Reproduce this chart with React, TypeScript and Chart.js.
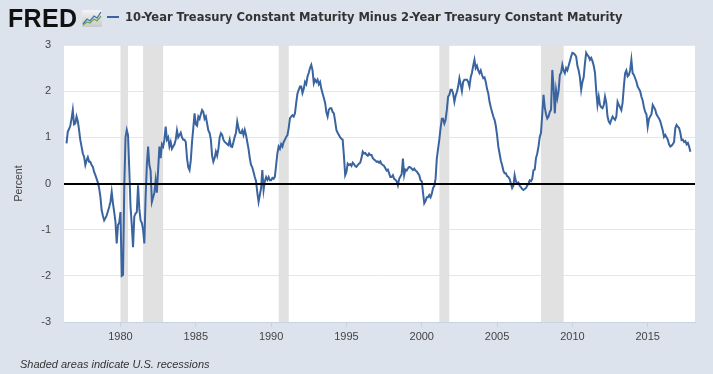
import React, { useEffect, useRef } from "react";
import { Chart, registerables } from "chart.js";
Chart.register(...registerables);

const startYear = 1976;
const startMonth = 6;

const spread1970s = [
  0.87, 1.12, 1.18, 1.25, 1.4, 1.59, 1.28,
  1.3, 1.45, 1.35, 1.16, 0.94, 0.8, 0.65, 0.58, 0.4, 0.5, 0.57, 0.47,
  0.47, 0.4, 0.36, 0.25, 0.18, 0.1, 0.02, -0.1, -0.29, -0.58, -0.7, -0.8,
  -0.75, -0.69, -0.6, -0.51, -0.4, -0.18, -0.43, -0.62, -0.83, -1.3, -0.9, -0.85,
];
const spread1980s = [
  -0.62, -2.0, -1.98, -0.1, 1.0, 1.16, 1.05, 0.3, -0.5, -0.9, -1.38, -0.72,
  -0.65, -0.62, -0.04, -0.55, -0.8, -0.85, -1.0, -1.3, -0.3, 0.4, 0.8, 0.4,
  0.28, -0.4, -0.3, -0.2, 0.07, -0.2, 0.3, 0.8, 0.55, 0.85, 0.8, 0.95,
  1.23, 0.95, 1.0, 0.8, 0.9, 0.75, 0.8, 0.85, 0.95, 1.15, 1.0, 1.05,
  1.1, 1.0, 0.95, 0.95, 0.9, 0.55, 0.35, 0.29, 0.5, 0.9, 1.2, 1.52,
  1.28, 1.25, 1.45, 1.4, 1.5, 1.59, 1.55, 1.4, 1.45, 1.3, 1.15, 1.09,
  0.95, 0.6, 0.47, 0.55, 0.69, 0.6, 0.75, 1.0, 1.09, 1.05, 0.95, 0.9,
  0.88, 0.85, 0.83, 0.95, 0.8, 0.79, 0.9, 1.01, 1.1, 1.34, 1.2, 1.1,
  1.09, 1.15, 1.05, 1.16, 1.05, 0.9, 0.75, 0.55, 0.4, 0.35, 0.25, 0.14,
  0.05, -0.2, -0.4, -0.25, -0.1, 0.29, -0.14, 0.05, 0.14, 0.08, 0.14, 0.07,
];
const spread1990s = [
  0.07, 0.12, 0.1, 0.15, 0.4, 0.65, 0.8, 0.75, 0.85, 0.8, 0.9, 0.95,
  1.01, 1.05, 1.2, 1.41, 1.45, 1.48, 1.45, 1.52, 1.75, 1.95, 2.03, 2.1,
  2.1, 1.96, 2.05, 2.2, 2.15, 2.32, 2.4, 2.5, 2.57, 2.45, 2.17, 2.25,
  2.2, 2.25, 2.15, 2.2, 2.05, 1.95, 1.85, 1.75, 1.55, 1.45, 1.6, 1.63,
  1.63, 1.55, 1.52, 1.35, 1.16, 1.1, 1.05, 1.0, 0.97, 0.95, 0.6, 0.18,
  0.25, 0.43, 0.4, 0.42, 0.38, 0.45, 0.42, 0.38, 0.36, 0.4, 0.43, 0.45,
  0.55, 0.69, 0.65, 0.66, 0.62, 0.6, 0.65, 0.62, 0.62, 0.55, 0.52, 0.5,
  0.47, 0.48, 0.45, 0.48, 0.42, 0.4, 0.38, 0.33, 0.28, 0.3, 0.22, 0.14,
  0.14, 0.18, 0.1, 0.08, 0.05, -0.04, 0.1, 0.15, 0.2, 0.54, 0.18, 0.3,
  0.28, 0.33, 0.36, 0.35, 0.32, 0.29, 0.32, 0.28, 0.26, 0.22, 0.18, 0.07,
];
const spread2000s = [
  0.05, -0.2, -0.43, -0.38, -0.3, -0.3, -0.25, -0.3, -0.22, -0.1, -0.05, 0.1,
  0.54, 0.75, 0.95, 1.2, 1.4, 1.4, 1.3, 1.38, 1.6, 1.88, 1.92, 2.03,
  2.03, 1.95, 1.77, 1.9, 1.98, 2.1, 2.28, 2.15, 2.0, 2.2, 2.25, 2.25,
  2.25, 2.2, 2.1, 2.3, 2.4, 2.55, 2.68, 2.5, 2.55, 2.45, 2.39, 2.45,
  2.35, 2.28, 2.3, 2.2, 2.05, 1.95, 1.77, 1.65, 1.55, 1.45, 1.38, 1.25,
  1.05, 0.8, 0.65, 0.5, 0.4, 0.28, 0.22, 0.22, 0.16, 0.14, 0.1, 0.0,
  -0.1, -0.05, 0.18, 0.05, 0.0, 0.02, -0.05, -0.08, -0.12, -0.14, -0.12, -0.1,
  -0.05, 0.0, 0.07, 0.05, 0.1, 0.29, 0.3, 0.55, 0.65, 0.8, 1.01, 1.1,
  1.5, 1.92, 1.65, 1.5, 1.41, 1.45, 1.55, 1.6, 2.46, 2.1, 1.52, 2.03,
  1.85, 2.0, 2.35, 2.4, 2.57, 2.45, 2.39, 2.5, 2.45, 2.55, 2.65, 2.75,
];
const spread2010s = [
  2.83, 2.82, 2.79, 2.75, 2.55, 2.45, 2.3, 2.03, 2.2, 2.3, 2.6, 2.83,
  2.78, 2.75, 2.68, 2.72, 2.65, 2.55, 2.4, 2.0, 1.7, 1.88, 1.7, 1.65,
  1.63, 1.7, 1.88, 1.75, 1.45, 1.34, 1.3, 1.38, 1.45, 1.41, 1.38, 1.45,
  1.77, 1.7, 1.65, 1.59, 1.75, 2.1, 2.39, 2.45, 2.32, 2.35, 2.45, 2.68,
  2.39, 2.35, 2.28, 2.21, 2.1, 2.05, 2.0, 1.88, 1.8, 1.65, 1.55, 1.5,
  1.23, 1.4, 1.45, 1.5, 1.7, 1.65, 1.6, 1.5, 1.45, 1.41, 1.35, 1.25,
  1.15, 1.01, 1.05, 1.0, 0.95, 0.85, 0.8, 0.82, 0.85, 0.9, 1.2, 1.27,
  1.23, 1.2, 1.1, 0.94, 0.95, 0.9, 0.92, 0.85, 0.88, 0.8, 0.69,
];

const recessionStarts = [1980.0, 1981.5, 1990.5, 2001.17, 2007.92];
const recessionEnds = [1980.5, 1982.83, 1991.17, 2001.83, 2009.42];
const xTickYears = [1980, 1985, 1990, 1995, 2000, 2005, 2010, 2015];
const yTickValues = [-3, -2, -1, 0, 1, 2, 3];

const title = "10-Year Treasury Constant Maturity Minus 2-Year Treasury Constant Maturity";
const yTitle = "Percent";
const footnote = "Shaded areas indicate U.S. recessions";

const LINE = "#3a64a0";
const BG = "#dce3ec";

export default function App() {
  const ref = useRef<HTMLCanvasElement | null>(null);
  useEffect(() => {
    const all = [...spread1970s, ...spread1980s, ...spread1990s, ...spread2000s, ...spread2010s];
    const points = all.map((v, i) => {
      const m = startMonth - 1 + i;
      return { x: startYear + m / 12, y: v };
    });
    const bgPlugin = {
      id: "bgp",
      beforeDatasetsDraw(chart: any) {
        const { ctx, chartArea: a, scales } = chart;
        ctx.save();
        ctx.fillStyle = "#e1e1e1";
        recessionStarts.forEach((s, i) => {
          const x0 = scales.x.getPixelForValue(s);
          const x1 = scales.x.getPixelForValue(recessionEnds[i]);
          ctx.fillRect(x0, a.top, x1 - x0, a.bottom - a.top);
        });
        ctx.restore();
      },
      afterDatasetsDraw(chart: any) {
        const { ctx, chartArea: a, scales } = chart;
        const y = Math.round(scales.y.getPixelForValue(0));
        ctx.save();
        ctx.fillStyle = "#000";
        ctx.fillRect(a.left, y - 1, a.right - a.left, 2);
        ctx.restore();
      },
    };
    const whitePlugin = {
      id: "whitep",
      beforeDraw(chart: any) {
        const { ctx, chartArea: a } = chart;
        ctx.save();
        ctx.fillStyle = "#fff";
        ctx.fillRect(a.left, a.top, a.right - a.left, a.bottom - a.top);
        ctx.restore();
      },
    };
    const chart = new Chart(ref.current as HTMLCanvasElement, {
      type: "line",
      data: {
        datasets: [
          {
            data: points,
            borderColor: LINE,
            borderWidth: 2,
            pointRadius: 0,
            tension: 0,
            fill: false,
          },
        ],
      },
      options: {
        animation: false,
        responsive: false,
        maintainAspectRatio: false,
        layout: { padding: { top: 45, right: 18, left: 13, bottom: 0 } },
        plugins: { legend: { display: false }, tooltip: { enabled: false } },
        scales: {
          x: {
            type: "linear",
            min: 1976.25,
            max: 2018.14,
            afterBuildTicks(scale: any) {
              scale.ticks = xTickYears.map((v) => ({ value: v }));
            },
            afterFit(scale: any) {
              scale.height = 52;
            },
            grid: {
              drawOnChartArea: false,
              drawTicks: true,
              tickLength: 5,
              color: "#c5d3e3",
            },
            border: { display: true, color: "#c5d3e3", width: 1 },
            ticks: {
              padding: 3,
              color: "#444",
              font: { family: "'Liberation Sans', Arial, sans-serif", size: 11 },
              callback: (v: any) => String(v),
              maxRotation: 0,
            },
          },
          y: {
            min: -3,
            max: 3,
            afterBuildTicks(scale: any) {
              scale.ticks = yTickValues.map((v) => ({ value: v }));
            },
            afterFit(scale: any) {
              scale.width = 51;
            },
            grid: { color: "#e6e6e6", drawTicks: false, lineWidth: 1 },
            border: { display: false },
            ticks: {
              padding: 13,
              color: "#444",
              font: { family: "'Liberation Sans', Arial, sans-serif", size: 11 },
              callback: (v: any) => String(v),
            },
            title: {
              display: true,
              text: yTitle,
              color: "#444",
              padding: { top: 0, bottom: 0 },
              font: { family: "'Liberation Sans', Arial, sans-serif", size: 10.5 },
            },
          },
        },
      },
      plugins: [whitePlugin, bgPlugin],
    } as any);
    return () => chart.destroy();
  }, []);

  return (
    <div style={{ position: "fixed", left: 0, top: 0, width: 713, height: 374, background: BG, overflow: "hidden" }}>
      <canvas ref={ref} width={713} height={374} style={{ position: "absolute", left: 0, top: 0, width: 713, height: 374 }} />
      <div
        style={{
          position: "absolute",
          left: 8,
          top: 4,
          fontFamily: "'Liberation Sans', Arial, sans-serif",
          fontWeight: 900,
          fontSize: 25,
          letterSpacing: 0.3,
          color: "#111",
          lineHeight: "28px",
        }}
      >
        FRED
      </div>
      <svg style={{ position: "absolute", left: 82, top: 10 }} width={20} height={17} viewBox="0 0 20 17">
        <defs>
          <linearGradient id="g" x1="0" y1="0" x2="0" y2="1">
            <stop offset="0" stopColor="#f4f4f4" />
            <stop offset="1" stopColor="#c9c9c9" />
          </linearGradient>
        </defs>
        <rect x="0" y="0" width="20" height="17" rx="1.5" fill="url(#g)" />
        <polyline points="1,14 5,9 8,11 12,6 15,8 19,2" fill="none" stroke="#4a74b0" strokeWidth="1.3" />
        <polyline points="1,15 5,12 8,13 12,9 15,11 19,6" fill="none" stroke="#6aa84f" strokeWidth="1.3" />
      </svg>
      <div style={{ position: "absolute", left: 107, top: 16, width: 12, height: 2, background: LINE }} />
      <div
        style={{
          position: "absolute",
          left: 125,
          top: 9,
          fontFamily: "'DejaVu Sans', Verdana, sans-serif",
          fontWeight: 700,
          fontSize: 11.5,
          color: "#333",
          whiteSpace: "nowrap",
          lineHeight: "16px",
        }}
      >
        {title}
      </div>
      <div
        style={{
          position: "absolute",
          left: 20,
          top: 357,
          fontFamily: "'Liberation Sans', Arial, sans-serif",
          fontStyle: "italic",
          fontSize: 11,
          color: "#333",
          whiteSpace: "nowrap",
          lineHeight: "14px",
        }}
      >
        {footnote}
      </div>
    </div>
  );
}
